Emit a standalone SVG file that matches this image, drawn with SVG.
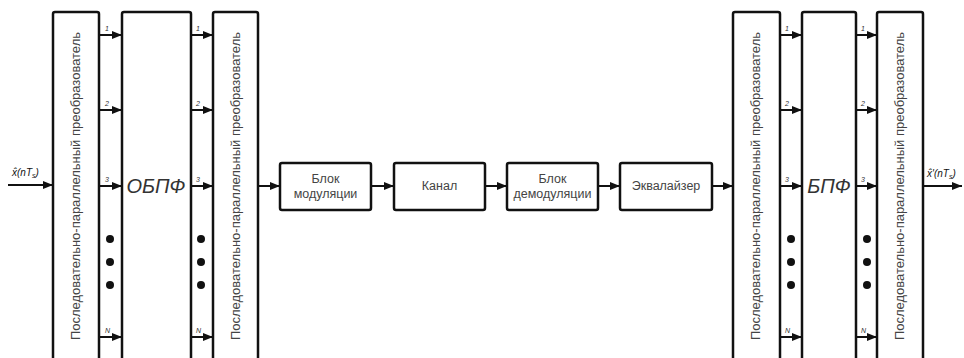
<svg xmlns="http://www.w3.org/2000/svg" width="964" height="358" viewBox="0 0 964 358">
<defs>
<marker id="ah" markerWidth="10" markerHeight="8" refX="10" refY="4" orient="auto" markerUnits="userSpaceOnUse">
<path d="M0,0 L10,4 L0,8 Z" fill="#111"/>
</marker>
<style>
.box{fill:#fff;stroke:#111;stroke-width:2.5}
.ar{stroke:#111;stroke-width:2;fill:none;marker-end:url(#ah)}
.vt{font-family:"Liberation Sans",Arial,sans-serif;font-size:12px;fill:#444}
.bt{font-family:"Liberation Sans",Arial,sans-serif;font-size:12.5px;fill:#444;text-anchor:middle}
.big{font-family:"Liberation Sans",Arial,sans-serif;font-size:20px;font-style:italic;fill:#333;text-anchor:middle}
.n{font-family:"Liberation Sans",Arial,sans-serif;font-size:7px;font-style:italic;fill:#333}
.sig{font-family:"Liberation Sans",Arial,sans-serif;font-size:10px;font-style:italic;fill:#111}
.dot{fill:#111}
</style>
</defs>
<rect width="964" height="358" fill="#fff"/>
<g id="connectors">
<line class="ar" x1="8" y1="185" x2="53" y2="185"/>
<line class="ar" x1="99" y1="35" x2="122" y2="35"/>
<line class="ar" x1="99" y1="110" x2="122" y2="110"/>
<line class="ar" x1="99" y1="186" x2="122" y2="186"/>
<line class="ar" x1="99" y1="337" x2="122" y2="337"/>
<line class="ar" x1="191" y1="35" x2="213" y2="35"/>
<line class="ar" x1="191" y1="110" x2="213" y2="110"/>
<line class="ar" x1="191" y1="186" x2="213" y2="186"/>
<line class="ar" x1="191" y1="337" x2="213" y2="337"/>
<line class="ar" x1="258" y1="186" x2="280" y2="186"/>
<line class="ar" x1="371" y1="186" x2="394" y2="186"/>
<line class="ar" x1="485" y1="186" x2="507" y2="186"/>
<line class="ar" x1="598" y1="186" x2="620" y2="186"/>
<line class="ar" x1="712" y1="186" x2="733" y2="186"/>
<line class="ar" x1="780" y1="35" x2="802" y2="35"/>
<line class="ar" x1="780" y1="110" x2="802" y2="110"/>
<line class="ar" x1="780" y1="186" x2="802" y2="186"/>
<line class="ar" x1="780" y1="337" x2="802" y2="337"/>
<line class="ar" x1="856" y1="35" x2="877" y2="35"/>
<line class="ar" x1="856" y1="110" x2="877" y2="110"/>
<line class="ar" x1="856" y1="186" x2="877" y2="186"/>
<line class="ar" x1="856" y1="337" x2="877" y2="337"/>
<line class="ar" x1="923" y1="186" x2="962" y2="186"/>
<circle class="dot" cx="110" cy="239" r="4"/>
<circle class="dot" cx="110" cy="262" r="4"/>
<circle class="dot" cx="110" cy="285" r="4"/>
<circle class="dot" cx="201" cy="239" r="4"/>
<circle class="dot" cx="201" cy="262" r="4"/>
<circle class="dot" cx="201" cy="285" r="4"/>
<circle class="dot" cx="791" cy="239" r="4"/>
<circle class="dot" cx="791" cy="262" r="4"/>
<circle class="dot" cx="791" cy="285" r="4"/>
<circle class="dot" cx="867" cy="239" r="4"/>
<circle class="dot" cx="867" cy="262" r="4"/>
<circle class="dot" cx="867" cy="285" r="4"/>
<text class="n" x="105" y="31">1</text>
<text class="n" x="105" y="106">2</text>
<text class="n" x="105" y="182">3</text>
<text class="n" x="105" y="333">N</text>
<text class="n" x="196" y="31">1</text>
<text class="n" x="196" y="106">2</text>
<text class="n" x="196" y="182">3</text>
<text class="n" x="196" y="333">N</text>
<text class="n" x="785" y="31">1</text>
<text class="n" x="785" y="106">2</text>
<text class="n" x="785" y="182">3</text>
<text class="n" x="785" y="333">N</text>
<text class="n" x="861" y="31">1</text>
<text class="n" x="861" y="106">2</text>
<text class="n" x="861" y="182">3</text>
<text class="n" x="861" y="333">N</text>
<text class="sig" x="12" y="176">x̂(nT<tspan font-size="7" dy="2">s</tspan><tspan dy="-2">)</tspan></text>
<text class="sig" x="927" y="177">x̂'(nT<tspan font-size="7" dy="2">s</tspan><tspan dy="-2">)</tspan></text>
</g>
<g id="sp1">
<rect class="box" x="53" y="12" width="46" height="360" rx="2"/>
<text class="vt" transform="translate(80,186) rotate(-90)" text-anchor="middle" textLength="308" lengthAdjust="spacingAndGlyphs">Последовательно-параллельный преобразователь</text>
</g>
<g id="obpf">
<rect class="box" x="122" y="12" width="69" height="360" rx="2"/>
<text class="big" x="156" y="193">ОБПФ</text>
</g>
<g id="sp2">
<rect class="box" x="213" y="12" width="45" height="360" rx="2"/>
<text class="vt" transform="translate(240,186) rotate(-90)" text-anchor="middle" textLength="308" lengthAdjust="spacingAndGlyphs">Последовательно-параллельный преобразователь</text>
</g>
<g id="mod">
<rect class="box" x="280" y="163" width="91" height="47" rx="2"/>
<text class="bt" x="325.5" y="183">Блок</text>
<text class="bt" x="325.5" y="198">модуляции</text>
</g>
<g id="kanal">
<rect class="box" x="394" y="163" width="91" height="47" rx="2"/>
<text class="bt" x="439.5" y="190">Канал</text>
</g>
<g id="demod">
<rect class="box" x="507" y="163" width="91" height="47" rx="2"/>
<text class="bt" x="552.5" y="183">Блок</text>
<text class="bt" x="552.5" y="198">демодуляции</text>
</g>
<g id="eq">
<rect class="box" x="620" y="163" width="92" height="47" rx="2"/>
<text class="bt" x="666" y="190">Эквалайзер</text>
</g>
<g id="sp3">
<rect class="box" x="733" y="12" width="47" height="360" rx="2"/>
<text class="vt" transform="translate(760,186) rotate(-90)" text-anchor="middle" textLength="308" lengthAdjust="spacingAndGlyphs">Последовательно-параллельный преобразователь</text>
</g>
<g id="bpf">
<rect class="box" x="802" y="12" width="54" height="360" rx="2"/>
<text class="big" x="829" y="193">БПФ</text>
</g>
<g id="sp4">
<rect class="box" x="877" y="12" width="46" height="360" rx="2"/>
<text class="vt" transform="translate(904,186) rotate(-90)" text-anchor="middle" textLength="308" lengthAdjust="spacingAndGlyphs">Последовательно-параллельный преобразователь</text>
</g>
</svg>
